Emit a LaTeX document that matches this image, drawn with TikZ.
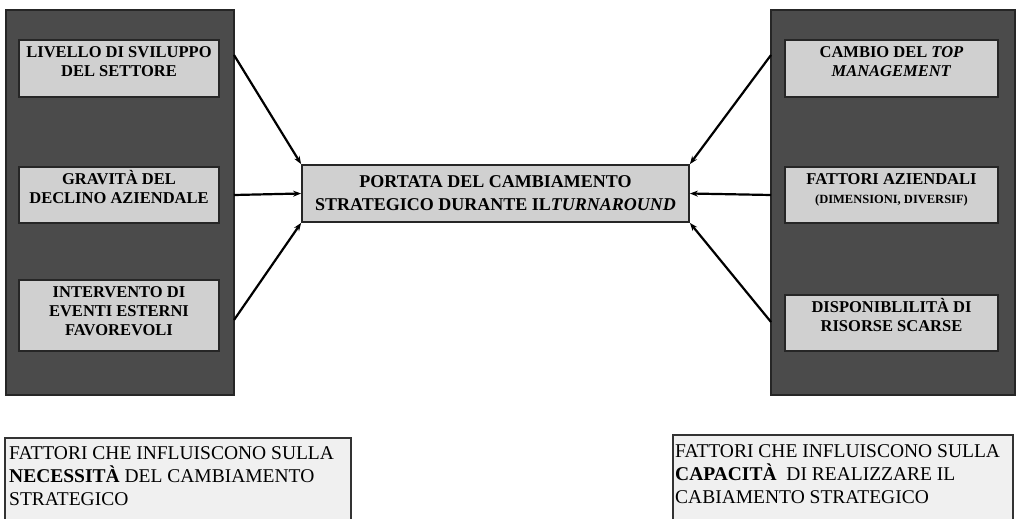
\documentclass[tikz,border=0pt]{standalone}
\usepackage{fontspec}
\setmainfont{Liberation Serif}
\usetikzlibrary{positioning,arrows.meta}

\definecolor{panelgray}{HTML}{4B4B4B}
\definecolor{boxgray}{HTML}{D0D0D0}
\definecolor{notegray}{HTML}{F0F0F0}

\begin{document}
\begin{tikzpicture}[
        x=1pt, y=-1pt,
        panel/.style={
            rectangle,
            draw=black!85,
            line width=1.5pt,
            fill=panelgray,
            inner sep=0pt
        },
        factbox/.style={
            rectangle,
            draw=black!85,
            line width=1.8pt,
            fill=boxgray,
            inner sep=0pt
        },
        facttext/.style={
            align=center,
            font=\bfseries\fontsize{16.5}{19}\selectfont,
            inner sep=0pt,
            anchor=north
        },
        notetext/.style={
            align=left,
            font=\fontsize{19.5}{23}\selectfont,
            inner sep=0pt,
            anchor=north west
        },
        link/.style={
            line width=2.2pt,
            -{Stealth[length=8pt,width=6pt]}
        }
    ]

    % (0,0) at top left corner, pixel units
    \clip (0,0) rectangle (1021,519);
    \fill[white] (0,0) rectangle (1021,519);

    % --- dark panels ---
    \node[panel, minimum width=228, minimum height=385] (necpanel) at (120,202.5) {};
    \node[panel, minimum width=244, minimum height=385] (cappanel) at (893,202.5) {};

    % --- left factors ---
    \node[factbox, minimum width=200, minimum height=57] (sviluppo) at (119,68.5) {};
    \node[factbox, minimum width=200, minimum height=56] (gravita)  at (119,195) {};
    \node[factbox, minimum width=200, minimum height=71] (eventi)   at (119,315.5) {};

    \node[facttext, below=4pt of sviluppo.north] (sviluppotxt) {\vphantom{À}LIVELLO DI SVILUPPO\\DEL SETTORE};
    \node[facttext, below=4pt of gravita.north]  (gravitatxt)  {GRAVITÀ DEL\\DECLINO AZIENDALE};
    \node[facttext, below=4pt of eventi.north]   (eventitxt)   {\vphantom{À}INTERVENTO DI\\EVENTI ESTERNI\\FAVOREVOLI};

    % --- right factors ---
    \node[factbox, minimum width=213, minimum height=57] (topmgmt)  at (891.5,68.5) {};
    \node[factbox, minimum width=213, minimum height=56] (aziendali) at (891.5,195) {};
    \node[factbox, minimum width=213, minimum height=56] (risorse)  at (891.5,323) {};

    \node[facttext, below=4pt of topmgmt.north] (topmgmttxt) {\vphantom{À}CAMBIO DEL \textit{TOP}\\\textit{MANAGEMENT}};
    \node[facttext, below=4pt of aziendali.north] (aziendalitxt) {\vphantom{À}FATTORI AZIENDALI\\{\fontsize{12.5}{14}\selectfont (DIMENSIONI, DIVERSIF)}};
    \node[facttext, below=4pt of risorse.north] (risorsetxt) {DISPONIBLILITÀ DI\\RISORSE SCARSE};

    % --- central box ---
    \node[factbox, minimum width=387, minimum height=57,
          align=center, font=\bfseries\fontsize{18}{23}\selectfont] (portata) at (495.5,193.5)
        {PORTATA DEL CAMBIAMENTO\\STRATEGICO DURANTE IL\textit{TURNAROUND}};

    % arrow start points on the panels
    \coordinate (n1) at (234,55);
    \coordinate (n2) at (234,195);
    \coordinate (n3) at (234,320);
    \coordinate (c1) at (771,55);
    \coordinate (c2) at (771,195);
    \coordinate (c3) at (771,322);

    \draw[link] (n1) -- (portata.north west);
    \draw[link] (n2) -- (portata.west);
    \draw[link] (n3) -- (portata.south west);
    \draw[link] (c1) -- (portata.north east);
    \draw[link] (c2) -- (portata.east);
    \draw[link] (c3) -- (portata.south east);

    % --- captions below ---
    \draw[line width=1.5pt, draw=black!80, fill=notegray] (5,438) rectangle (351,540);
    \draw[line width=1.5pt, draw=black!80, fill=notegray] (673,435) rectangle (1013,540);

    \node[notetext] (necnote) at (9,446)
        {FATTORI CHE INFLUISCONO SULLA\\\textbf{NECESSITÀ} DEL CAMBIAMENTO\\STRATEGICO};
    \node[notetext] (capnote) at (675,444)
        {FATTORI CHE INFLUISCONO SULLA\\\textbf{CAPACITÀ}\ \ DI REALIZZARE IL\\CABIAMENTO STRATEGICO};

\end{tikzpicture}
\end{document}
